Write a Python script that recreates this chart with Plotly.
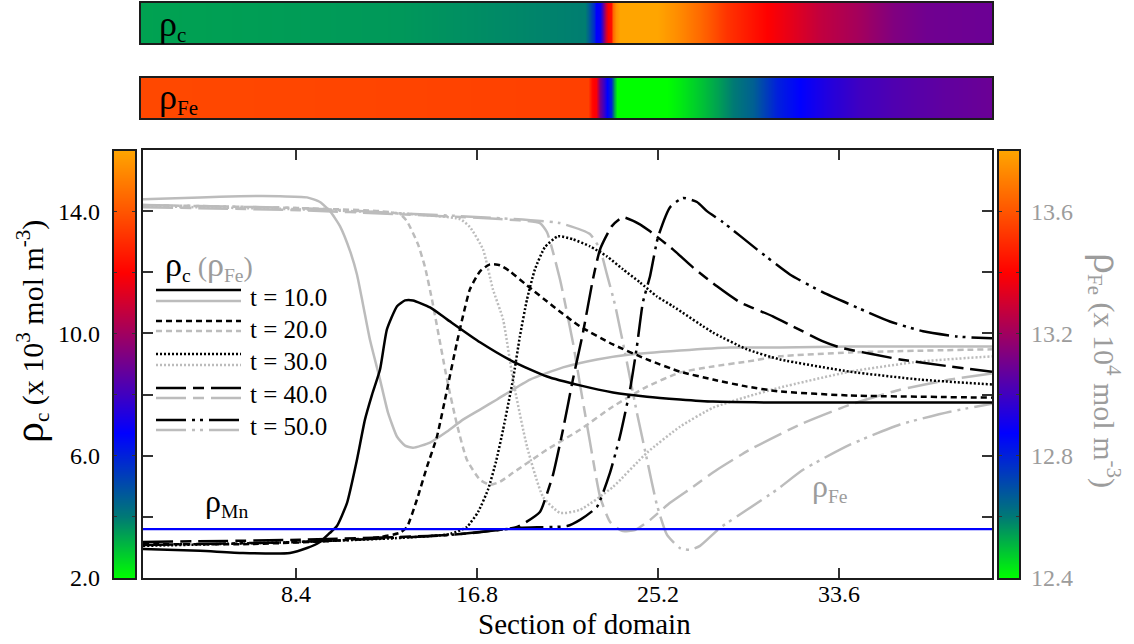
import plotly.graph_objects as go

W, H = 1134, 644
FONT = "Liberation Serif"
BLACK = "#000000"
GREY = "#bcbcbc"
GREY_TXT = "#9c9c9c"
FRAME = "#1c1c1c"

# ---------------- data ----------------
times = [10.0, 20.0, 30.0, 40.0, 50.0]
domain_span = [1.3, 40.7]
x_ticks = [8.4, 16.8, 25.2, 33.6]
rho_mn = 3.6

# rho_c (x 1e3 mol m^-3)
x_c10 = [1.30, 3.95, 5.94, 8.12, 8.91, 9.51, 9.98, 10.30, 10.77, 11.23, 11.60, 11.93, 12.30, 12.62, 13.09,
         13.46, 13.83, 14.62, 15.41, 16.94, 18.47, 20.05, 21.58, 23.11, 24.69, 26.22, 27.75, 30.86, 34.11, 40.70]
rho_c10 = [2.95, 2.89, 2.82, 2.82, 2.98, 3.18, 3.48, 3.70, 4.46, 5.87, 7.18, 8.00, 8.82, 10.13, 10.89,
           11.08, 11.08, 10.85, 10.46, 9.71, 9.08, 8.59, 8.30, 8.07, 7.93, 7.84, 7.77, 7.74, 7.74, 7.74]

x_c20 = [1.30, 6.27, 9.98, 12.30, 13.23, 13.55, 14.01, 14.48, 14.94, 15.41, 15.87, 16.47, 16.94, 17.40,
         17.87, 18.33, 19.12, 20.33, 21.58, 23.11, 24.69, 26.22, 27.75, 29.33, 30.86, 34.11, 40.70]
rho_c20 = [3.11, 3.11, 3.21, 3.34, 3.48, 3.67, 4.56, 5.64, 6.62, 8.16, 9.71, 11.44, 12.03, 12.26,
           12.23, 12.03, 11.57, 10.89, 10.23, 9.64, 9.15, 8.75, 8.49, 8.26, 8.10, 7.97, 7.90]

x_c30 = [1.30, 8.59, 13.23, 15.55, 16.33, 16.85, 17.31, 17.68, 18.01, 18.47, 18.79, 19.12, 19.49, 19.95,
         20.56, 21.25, 22.04, 22.83, 23.57, 24.36, 25.15, 25.89, 27.75, 29.33, 30.86, 34.11, 37.36, 40.70]
rho_c30 = [3.05, 3.18, 3.31, 3.44, 3.67, 4.16, 4.89, 5.80, 6.85, 8.49, 9.90, 11.11, 12.10, 12.82,
           13.18, 13.08, 12.85, 12.52, 12.10, 11.67, 11.21, 10.89, 10.03, 9.48, 9.15, 8.75, 8.49, 8.33]

x_c40 = [1.30, 8.59, 15.55, 18.66, 19.72, 20.00, 20.33, 20.79, 21.25, 21.72, 22.18, 22.51, 23.06, 23.57,
         24.36, 24.83, 25.89, 26.82, 27.94, 29.00, 30.53, 31.46, 32.86, 33.65, 36.43, 38.75, 40.70]
rho_c40 = [3.18, 3.25, 3.41, 3.67, 4.16, 4.66, 5.38, 6.85, 8.49, 10.03, 11.77, 12.75, 13.51, 13.80,
           13.57, 13.34, 12.75, 12.16, 11.54, 11.02, 10.56, 10.23, 9.74, 9.54, 9.15, 8.92, 8.75]

x_c50 = [1.30, 8.59, 15.55, 18.79, 20.98, 21.58, 22.37, 22.97, 23.43, 23.90, 24.22, 24.50, 24.83, 25.20,
         25.76, 26.36, 27.01, 27.47, 28.21, 29.79, 31.32, 32.86, 34.43, 35.96, 37.50, 39.07, 40.70]
rho_c50 = [3.08, 3.18, 3.41, 3.64, 3.70, 3.90, 4.33, 5.44, 6.62, 8.16, 9.57, 11.02, 11.87, 13.15,
           14.13, 14.43, 14.30, 14.00, 13.64, 12.75, 11.93, 11.34, 10.85, 10.39, 10.07, 9.90, 9.84]

# rho_Fe (x 1e4 mol m^-3)
x_fe10 = [1.30, 3.95, 5.80, 7.66, 8.91, 9.51, 9.98, 10.44, 10.91, 11.23, 11.51, 11.83, 12.30, 12.67, 13.09,
          13.46, 13.83, 14.62, 15.41, 16.15, 16.94, 17.73, 19.26, 20.79, 22.37, 23.90, 26.22, 28.54, 30.86,
          34.11, 40.70]
rho_fe10 = [13.639, 13.645, 13.649, 13.649, 13.645, 13.630, 13.600, 13.551, 13.469, 13.393, 13.295, 13.180,
            13.049, 12.941, 12.862, 12.833, 12.826, 12.843, 12.879, 12.918, 12.951, 12.984, 13.049, 13.089,
            13.115, 13.131, 13.144, 13.154, 13.154, 13.157, 13.157]

x_fe20 = [1.30, 8.59, 12.30, 13.23, 13.55, 14.06, 14.39, 14.71, 15.41, 15.87, 16.33, 16.94, 17.40, 17.87,
          18.47, 20.05, 21.58, 23.11, 24.69, 26.22, 27.75, 29.33, 30.86, 34.11, 40.70]
rho_fe20 = [13.620, 13.610, 13.600, 13.590, 13.567, 13.492, 13.416, 13.311, 13.049, 12.902, 12.787, 12.721,
            12.705, 12.715, 12.744, 12.820, 12.885, 12.961, 13.026, 13.072, 13.092, 13.108, 13.125, 13.138,
            13.148]

x_fe30 = [1.30, 8.59, 13.23, 16.01, 16.47, 17.08, 17.54, 18.01, 18.47, 19.12, 19.86, 20.65, 21.58, 23.11,
          24.69, 26.22, 27.75, 29.33, 30.86, 34.11, 37.36, 40.70]
rho_fe30 = [13.616, 13.606, 13.593, 13.574, 13.548, 13.475, 13.344, 13.246, 13.049, 12.830, 12.666, 12.613,
            12.623, 12.698, 12.810, 12.895, 12.957, 12.993, 13.023, 13.075, 13.108, 13.125]

x_fe40 = [1.30, 8.59, 13.23, 17.87, 19.72, 20.05, 20.65, 21.25, 21.58, 22.04, 22.51, 22.97, 23.53, 24.13,
          24.83, 25.76, 26.82, 27.94, 29.47, 31.79, 34.11, 36.43, 38.75, 40.70]
rho_fe40 = [13.613, 13.603, 13.590, 13.574, 13.561, 13.531, 13.377, 13.171, 13.033, 12.846, 12.666, 12.584,
            12.554, 12.557, 12.590, 12.646, 12.698, 12.754, 12.820, 12.902, 12.967, 13.016, 13.049, 13.069]

x_fe50 = [1.30, 8.59, 13.23, 17.87, 20.65, 22.04, 22.51, 22.83, 23.20, 23.76, 24.22, 24.69, 25.15, 25.62,
          26.22, 26.68, 27.15, 28.08, 29.33, 30.72, 31.93, 34.11, 36.43, 38.75, 40.70]
rho_fe50 = [13.620, 13.610, 13.593, 13.577, 13.561, 13.525, 13.475, 13.393, 13.295, 13.105, 12.941, 12.787,
            12.639, 12.541, 12.498, 12.492, 12.505, 12.564, 12.623, 12.689, 12.754, 12.836, 12.902, 12.944,
            12.970]

# colour strips above the plot (profile sampled along the section)
bar_span = [1.16, 40.75]
bar_c_x = [1.16, 13.23, 21.81, 21.95, 22.23, 22.32, 22.51, 22.60, 22.69, 22.79, 22.88, 23.02, 23.11, 23.25,
           23.43, 25.15, 26.08, 27.15, 28.40, 30.26, 31.46, 32.72, 34.57, 36.10, 37.68, 40.75]
bar_c_val = [3.40, 3.55, 3.95, 4.50, 5.80, 6.75, 6.90, 8.00, 9.50, 11.0, 12.0, 12.3, 14.5, 15.5,
             16.0, 16.0, 15.4, 14.5, 13.2, 12.0, 11.4, 10.7, 10.05, 9.35, 9.0, 8.9]
bar_fe_x = [1.16, 13.23, 21.95, 22.14, 22.32, 22.51, 22.69, 22.83, 23.02, 23.16, 23.30, 25.62, 26.22, 27.29,
            27.94, 28.68, 29.61, 30.72, 31.79, 33.04, 34.57, 36.10, 38.42, 40.75]
bar_fe_val = [13.57, 13.56, 13.55, 13.42, 13.38, 13.10, 12.98, 12.875, 12.80, 12.55, 12.40, 12.40, 12.43,
              12.495, 12.54, 12.60, 12.66, 12.805, 12.875, 12.94, 13.00, 13.033, 13.067, 13.09]

# colour scale ranges and tick labels
cbar_c_range = [2.0, 16.0]
cbar_c_ticks = [2.0, 4.0, 6.0, 8.0, 10.0, 12.0, 14.0, 16.0]
cbar_c_labels = ["2.0", "", "6.0", "", "10.0", "", "14.0", ""]
cbar_fe_range = [12.4, 13.8]
cbar_fe_ticks = [12.4, 12.6, 12.8, 13.0, 13.2, 13.4, 13.6, 13.8]
cbar_fe_labels = ["12.4", "", "12.8", "", "13.2", "", "13.6", ""]
main_minor = [12.6, 12.8, 13.0, 13.2, 13.4, 13.6]

CSCALE = [[0.0, "#00ff00"], [0.143, "#007a74"], [0.339, "#0000ff"], [0.429, "#4000c0"],
          [0.571, "#a00060"], [0.714, "#ff0000"], [0.857, "#ff5500"], [1.0, "#ffa500"]]

DASHES = ["solid", "6px,4px", "2px,2px", "30px,7px,11px,7px", "30px,6px,3px,5px,3px,6px"]


def px(v):
    return v / W


def py(v):
    return 1 - v / H


fig = go.Figure()

c_curves = [(x_c10, rho_c10), (x_c20, rho_c20), (x_c30, rho_c30), (x_c40, rho_c40), (x_c50, rho_c50)]
fe_curves = [(x_fe10, rho_fe10), (x_fe20, rho_fe20), (x_fe30, rho_fe30), (x_fe40, rho_fe40), (x_fe50, rho_fe50)]

# iron profiles (grey) sit on the base axis so carbon draws over them
for (xs, ys), d in zip(fe_curves, DASHES):
    fig.add_trace(go.Scatter(x=xs, y=ys, mode="lines", xaxis="x", yaxis="y", hoverinfo="skip",
                             showlegend=False,
                             line=dict(color=GREY, width=2.5, dash=d, shape="spline", smoothing=0.5)))

for (xs, ys), d in zip(c_curves, DASHES):
    fig.add_trace(go.Scatter(x=xs, y=ys, mode="lines", xaxis="x", yaxis="y2", hoverinfo="skip",
                             showlegend=False,
                             line=dict(color=BLACK, width=2.5, dash=d, shape="spline", smoothing=0.5)))

fig.add_trace(go.Scatter(x=domain_span, y=[rho_mn, rho_mn], mode="lines", xaxis="x", yaxis="y2",
                         hoverinfo="skip", showlegend=False, line=dict(color="#0000ff", width=2.2)))

# colour strips
fig.add_trace(go.Heatmap(x=bar_c_x, y=[0, 1], z=[bar_c_val, bar_c_val], zmin=cbar_c_range[0],
                         zmax=cbar_c_range[1], colorscale=CSCALE, zsmooth="best", showscale=False,
                         xaxis="x2", yaxis="y3", hoverinfo="skip"))
fig.add_trace(go.Heatmap(x=bar_fe_x, y=[0, 1], z=[bar_fe_val, bar_fe_val], zmin=cbar_fe_range[0],
                         zmax=cbar_fe_range[1], colorscale=CSCALE, zsmooth="best", showscale=False,
                         xaxis="x2", yaxis="y4", hoverinfo="skip"))

# vertical colour bars
fig.add_trace(go.Heatmap(x=[0, 1], y=cbar_c_range, z=[[cbar_c_range[0]] * 2, [cbar_c_range[1]] * 2],
                         zmin=cbar_c_range[0], zmax=cbar_c_range[1], colorscale=CSCALE, zsmooth="best",
                         showscale=False, xaxis="x3", yaxis="y5", hoverinfo="skip"))
fig.add_trace(go.Heatmap(x=[0, 1], y=cbar_fe_range, z=[[cbar_fe_range[0]] * 2, [cbar_fe_range[1]] * 2],
                         zmin=cbar_fe_range[0], zmax=cbar_fe_range[1], colorscale=CSCALE, zsmooth="best",
                         showscale=False, xaxis="x4", yaxis="y6", hoverinfo="skip"))

main_xd = [px(143), px(992)]
main_yd = [py(578), py(150)]

hidden = dict(visible=False, showgrid=False, zeroline=False, automargin=False)
cbar_axis = dict(ticks="inside", ticklen=4, tickwidth=1, tickcolor="#333", mirror="ticks", showline=False,
                 showgrid=False, zeroline=False, automargin=False)

fig.update_layout(
    template="none",
    width=W, height=H, autosize=False,
    margin=dict(l=0, r=0, t=0, b=0, pad=0, autoexpand=False),
    paper_bgcolor="white", plot_bgcolor="white",
    font=dict(family=FONT, color=BLACK),
    showlegend=False,
    xaxis=dict(domain=main_xd, range=domain_span, anchor="y", tickvals=x_ticks, automargin=False,
               ticktext=[f"{v:.1f}" for v in x_ticks], ticks="inside", ticklen=10, tickwidth=1.5,
               tickcolor="#333", mirror="ticks", showline=True, linewidth=2, linecolor=FRAME,
               showgrid=False, zeroline=False, ticklabelstandoff=-7,
               tickfont=dict(size=24, family=FONT, color=BLACK)),
    yaxis=dict(domain=main_yd, range=cbar_fe_range, anchor="x", tickvals=main_minor, ticks="inside",
               ticklen=10, tickwidth=1.5, tickcolor="#333", mirror="ticks", showline=True, linewidth=2,
               linecolor=FRAME, showticklabels=False, showgrid=False, zeroline=False, automargin=False),
    yaxis2=dict(overlaying="y", anchor="x", range=cbar_c_range, **hidden),
    xaxis2=dict(domain=[px(140), px(993)], range=bar_span, anchor="y3", **hidden),
    yaxis3=dict(domain=[py(44), py(2)], range=[0, 1], anchor="x2", **hidden),
    yaxis4=dict(domain=[py(119), py(77)], range=[0, 1], anchor="x2", **hidden),
    xaxis3=dict(domain=[px(113), px(136)], range=[0, 1], anchor="y5", **hidden),
    yaxis5=dict(domain=main_yd, range=cbar_c_range, anchor="x3", side="left", tickvals=cbar_c_ticks,
                ticktext=cbar_c_labels, ticklabelstandoff=12,
                tickfont=dict(size=24, family=FONT, color=BLACK), **cbar_axis),
    xaxis4=dict(domain=[px(998), px(1020)], range=[0, 1], anchor="y6", **hidden),
    yaxis6=dict(domain=main_yd, range=cbar_fe_range, anchor="x4", side="right", tickvals=cbar_fe_ticks,
                ticktext=cbar_fe_labels, ticklabelstandoff=10,
                tickfont=dict(size=24, family=FONT, color=GREY_TXT), **cbar_axis),
)

shapes = []
for x0, x1, y0, y1 in [(140, 993, 2, 44), (140, 993, 77, 119), (113, 136, 150, 579), (998, 1020, 150, 579)]:
    shapes.append(dict(type="rect", xref="paper", yref="paper", x0=px(x0), x1=px(x1), y0=py(y1), y1=py(y0),
                       line=dict(color=FRAME, width=2), fillcolor="rgba(0,0,0,0)", layer="above"))

# key: black (carbon) over grey (iron) sample strokes per time
row_black = [290, 321, 354, 388, 420]
row_grey = [301, 331, 365, 398, 430]
row_text = [298, 329, 361, 394, 426]
for yb, yg, d in zip(row_black, row_grey, DASHES):
    shapes.append(dict(type="line", xref="paper", yref="paper", x0=px(156), x1=px(241), y0=py(yb), y1=py(yb),
                       line=dict(color=BLACK, width=2.5, dash=d)))
    shapes.append(dict(type="line", xref="paper", yref="paper", x0=px(156), x1=px(241), y0=py(yg), y1=py(yg),
                       line=dict(color=GREY, width=2.5, dash=d)))
fig.update_layout(shapes=shapes)

ann = []


def text(x, y, s, size, color=BLACK, xanchor="left", angle=0):
    ann.append(dict(xref="paper", yref="paper", x=px(x), y=py(y), text=s, showarrow=False,
                    xanchor=xanchor, yanchor="middle", textangle=angle,
                    font=dict(family=FONT, size=size, color=color)))


text(157, 25, "<span style='font-size:36px'>ρ</span><sub>c</sub>", 30)
text(157, 99, "<span style='font-size:36px'>ρ</span><sub>Fe</sub>", 30)
text(163, 266, f"<span style='font-size:34px'>ρ</span><sub>c</sub>"
     f"<span style='color:{GREY_TXT}'> (<span style='font-size:34px'>ρ</span><sub>Fe</sub>)</span>", 28)
for t, yt in zip(times, row_text):
    text(248, yt, f"t = {t:.1f}", 25)
text(203, 503, "<span style='font-size:32px'>ρ</span><sub>Mn</sub>", 28)
text(810, 487, "<span style='font-size:32px'>ρ</span><sub>Fe</sub>", 28, color=GREY_TXT)
text(584, 624, "Section of domain", 29, xanchor="center")
text(30, 332, "<span style='font-size:42px'>ρ</span><sub>c</sub> (x 10<sup>3</sup> mol m<sup>-3</sup>)",
     30, xanchor="center", angle=-90)
text(1107, 370, "<span style='font-size:42px'>ρ</span><sub>Fe</sub> (x 10<sup>4</sup> mol m<sup>-3</sup>)",
     30, color=GREY_TXT, xanchor="center", angle=90)
fig.update_layout(annotations=ann)

fig.write_html("out.html")
